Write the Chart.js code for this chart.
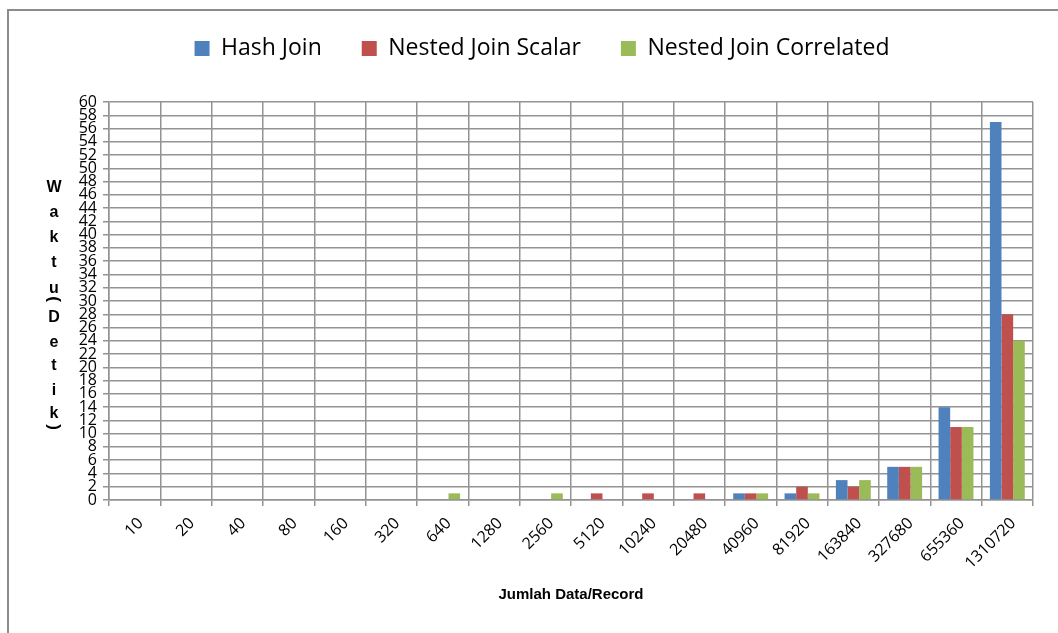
<!DOCTYPE html>
<html>
<head>
<meta charset="utf-8">
<script src="https://cdn.jsdelivr.net/npm/chart.js@4/dist/chart.umd.min.js"></script>
<style>
  html, body { margin: 0; padding: 0; background: #fff; }
  #wrap { position: relative; width: 1058px; height: 633px; overflow: hidden; }
  #frame { position: absolute; left: 7px; top: 9px; width: 1200px; height: 800px;
           border-left: 2px solid #8c8c8c; border-top: 2px solid #8c8c8c; }
  #chart { position: absolute; left: 0; top: 0; }
</style>
</head>
<body>
<div id="wrap">
  <div id="frame"></div>
  <canvas id="chart" width="1058" height="633"></canvas>
</div>
<script>
const records = ['10', '20', '40', '80', '160', '320', '640', '1280', '2560', '5120',
  '10240', '20480', '40960', '81920', '163840', '327680', '655360', '1310720'];

const hashJoin         = [0, 0, 0, 0, 0, 0, 0, 0, 0, 0, 0, 0, 1, 1, 3, 5, 14, 57];
const nestedScalar     = [0, 0, 0, 0, 0, 0, 0, 0, 0, 1, 1, 1, 1, 2, 2, 5, 11, 28];
const nestedCorrelated = [0, 0, 0, 0, 0, 0, 1, 0, 1, 0, 0, 0, 1, 1, 3, 5, 11, 24];

const yMax = 60;
const yStep = 2;

const gridColor = '#939393';

// vertical stacked title "Waktu (Detik)" on the left, brackets turned sideways
const yTitleLetters = [
  ['W', 188], ['a', 213], ['k', 238], ['t', 263], ['u', 289], ['(', 299],
  ['D', 318], ['e', 343], ['t', 366], ['i', 391], ['k', 414], [')', 427]
];

const stackedTitle = {
  id: 'stackedTitle',
  afterDraw(chart) {
    const ctx = chart.ctx;
    ctx.save();
    ctx.fillStyle = '#000';
    ctx.textAlign = 'center';
    ctx.textBaseline = 'middle';
    yTitleLetters.forEach(([ch, y]) => {
      ctx.save();
      ctx.translate(54, y);
      if (ch === '(' || ch === ')') {
        ctx.rotate(Math.PI / 2);
        ctx.font = 'bold 17px "Liberation Sans", Arial, sans-serif';
      } else {
        ctx.font = 'bold 16px "Liberation Sans", Arial, sans-serif';
      }
      ctx.fillText(ch, 0, 0);
      ctx.restore();
    });
    ctx.restore();
  }
};

new Chart(document.getElementById('chart'), {
  type: 'bar',
  data: {
    labels: records,
    datasets: [
      { label: 'Hash Join', data: hashJoin, backgroundColor: '#4f81bd' },
      { label: 'Nested Join Scalar', data: nestedScalar, backgroundColor: '#c0504d' },
      { label: 'Nested Join Correlated', data: nestedCorrelated, backgroundColor: '#9bbb59' }
    ]
  },
  options: {
    responsive: false,
    animation: false,
    devicePixelRatio: 1,
    layout: { padding: { top: -3, left: 26, right: 0, bottom: 0 } },
    datasets: { bar: { categoryPercentage: 0.68, barPercentage: 1 } },
    plugins: {
      legend: {
        position: 'top',
        labels: {
          boxWidth: 15,
          boxHeight: 15,
          padding: 40,
          color: '#000',
          font: { family: '"Open Sans", sans-serif', size: 23 }
        }
      },
      tooltip: { enabled: false }
    },
    scales: {
      x: {
        grid: { color: gridColor, lineWidth: 1.5, tickLength: 6 },
        border: { color: gridColor, width: 1.5 },
        ticks: {
          color: '#000',
          minRotation: 45,
          maxRotation: 45,
          autoSkip: false,
          padding: 8,
          labelOffset: 6,
          font: { family: '"Open Sans", sans-serif', size: 16 }
        },
        title: {
          display: true,
          text: 'Jumlah Data/Record',
          color: '#000',
          font: { family: '"Liberation Sans", Arial, sans-serif', size: 15, weight: 'bold' },
          padding: { top: 0, bottom: 29 }
        },
        afterFit(scale) { scale.height = 133; }
      },
      xTop: {
        type: 'category',
        position: 'top',
        grid: { display: false },
        border: { display: false },
        ticks: { display: false },
        afterFit(scale) { scale.height = 32; }
      },
      y: {
        min: 0,
        max: yMax,
        grid: { color: gridColor, lineWidth: 1.5, tickLength: 6 },
        border: { color: gridColor, width: 1.5 },
        ticks: {
          stepSize: yStep,
          autoSkip: false,
          color: '#000',
          padding: 6,
          font: { family: '"Open Sans", sans-serif', size: 16, lineHeight: 1 }
        },
        afterFit(scale) { scale.width = 83; }
      },
      yRight: {
        position: 'right',
        grid: { display: false },
        border: { display: false },
        ticks: { display: false },
        afterFit(scale) { scale.width = 25; }
      }
    }
  },
  plugins: [stackedTitle]
});
</script>
</body>
</html>
